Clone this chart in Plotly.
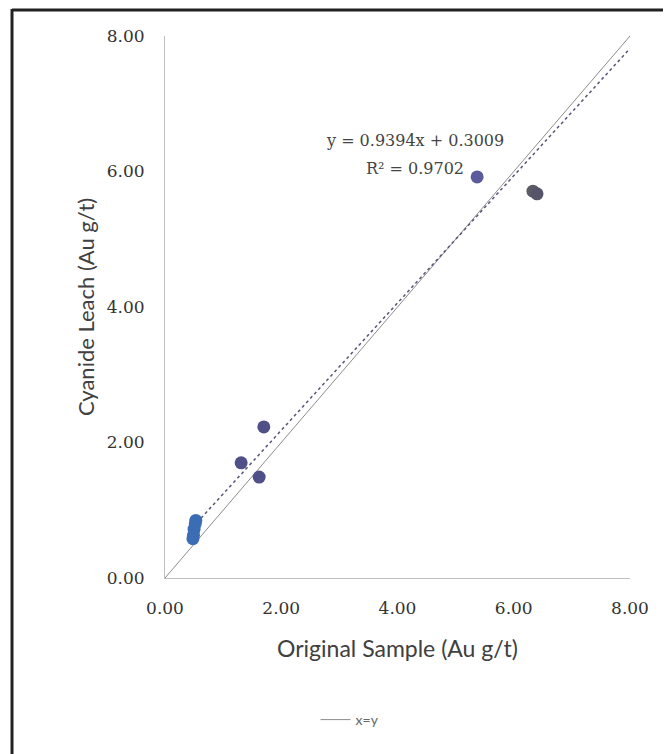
import plotly.graph_objects as go

# Data
orig_sample = [5.37, 6.33, 6.40, 1.70, 1.31, 1.62, 0.53, 0.52, 0.50, 0.49, 0.48]
cyanide_leach = [5.92, 5.71, 5.67, 2.23, 1.70, 1.49, 0.85, 0.80, 0.72, 0.63, 0.58]
point_colors = ["#5a5a9c", "#5c5c66", "#55556a", "#505088", "#505088", "#505088",
                "#3b6db4", "#3b6db4", "#3b6db4", "#3b6db4", "#3b6db4"]
slope = 0.9394
intercept = 0.3009
r2 = 0.9702
trend_x = [0.48, 8.0]
xy_line = [0.0, 8.0]
tick_vals = [0, 2, 4, 6, 8]
tick_text = ["0.00", "2.00", "4.00", "6.00", "8.00"]
x_title = "Original Sample (Au g/t)"
y_title = "Cyanide Leach (Au g/t)"

fig = go.Figure()

fig.add_trace(go.Scatter(
    x=xy_line, y=xy_line, mode="lines", name="x=y",
    line=dict(color="#8c8c8c", width=1), showlegend=True))

fig.add_trace(go.Scatter(
    x=trend_x, y=[slope * v + intercept for v in trend_x], mode="lines",
    line=dict(color="#555577", width=1.5, dash="dot"), showlegend=False, hoverinfo="skip"))

fig.add_trace(go.Scatter(
    x=orig_sample, y=cyanide_leach, mode="markers",
    marker=dict(size=13, color=point_colors, line=dict(width=0)), showlegend=False))

serif = "DejaVu Serif, serif"
sans = "Lato, Open Sans, sans-serif"

fig.add_annotation(
    x=0.538, y=0.808, xref="paper", yref="paper", xanchor="center", yanchor="middle",
    text=f"y = {slope}x + {intercept}", showarrow=False,
    font=dict(family=serif, size=16, color="#444444"))
fig.add_annotation(
    x=0.538, y=0.755, xref="paper", yref="paper", xanchor="center", yanchor="middle",
    text=f"R² = {r2}", showarrow=False,
    font=dict(family=serif, size=16, color="#444444"))
fig.add_annotation(
    x=0.501, y=-0.129, xref="paper", yref="paper", xanchor="center", yanchor="middle",
    text=x_title, showarrow=False, font=dict(family=sans, size=23, color="#404040"))
fig.add_annotation(
    x=-0.172, y=0.5, xref="paper", yref="paper", xanchor="center", yanchor="middle",
    text=y_title, textangle=-90, showarrow=False,
    font=dict(family=sans, size=22, color="#404040"))

fig.update_layout(
    width=663, height=746,
    margin=dict(l=157, r=41, t=28, b=176),
    paper_bgcolor="white", plot_bgcolor="white",
    xaxis=dict(range=[0, 8], tickvals=tick_vals, ticktext=tick_text, showgrid=False,
               zeroline=False, showline=True, linecolor="#bfbfbf", linewidth=1,
               ticks="", ticklabelstandoff=15, automargin=False,
               tickfont=dict(family=serif, size=17, color="#333333")),
    yaxis=dict(range=[0, 8], tickvals=tick_vals, ticktext=tick_text, showgrid=False,
               zeroline=False, showline=True, linecolor="#bfbfbf", linewidth=1,
               ticks="", ticklabelstandoff=16, automargin=False,
               tickfont=dict(family=serif, size=17, color="#333333")),
    legend=dict(orientation="h", x=0.398, xanchor="center", y=-0.262, yanchor="middle",
                font=dict(family=sans, size=14, color="#666666"), bgcolor="rgba(0,0,0,0)"),
    shapes=[
        dict(type="line", xref="paper", yref="paper", x0=-0.329, x1=-0.329, y0=-0.33, y1=1.05,
             line=dict(color="#222222", width=3)),
        dict(type="line", xref="paper", yref="paper", x0=-0.329, x1=1.09, y0=1.048, y1=1.048,
             line=dict(color="#222222", width=3)),
    ],
)

fig.write_html("out.html")
